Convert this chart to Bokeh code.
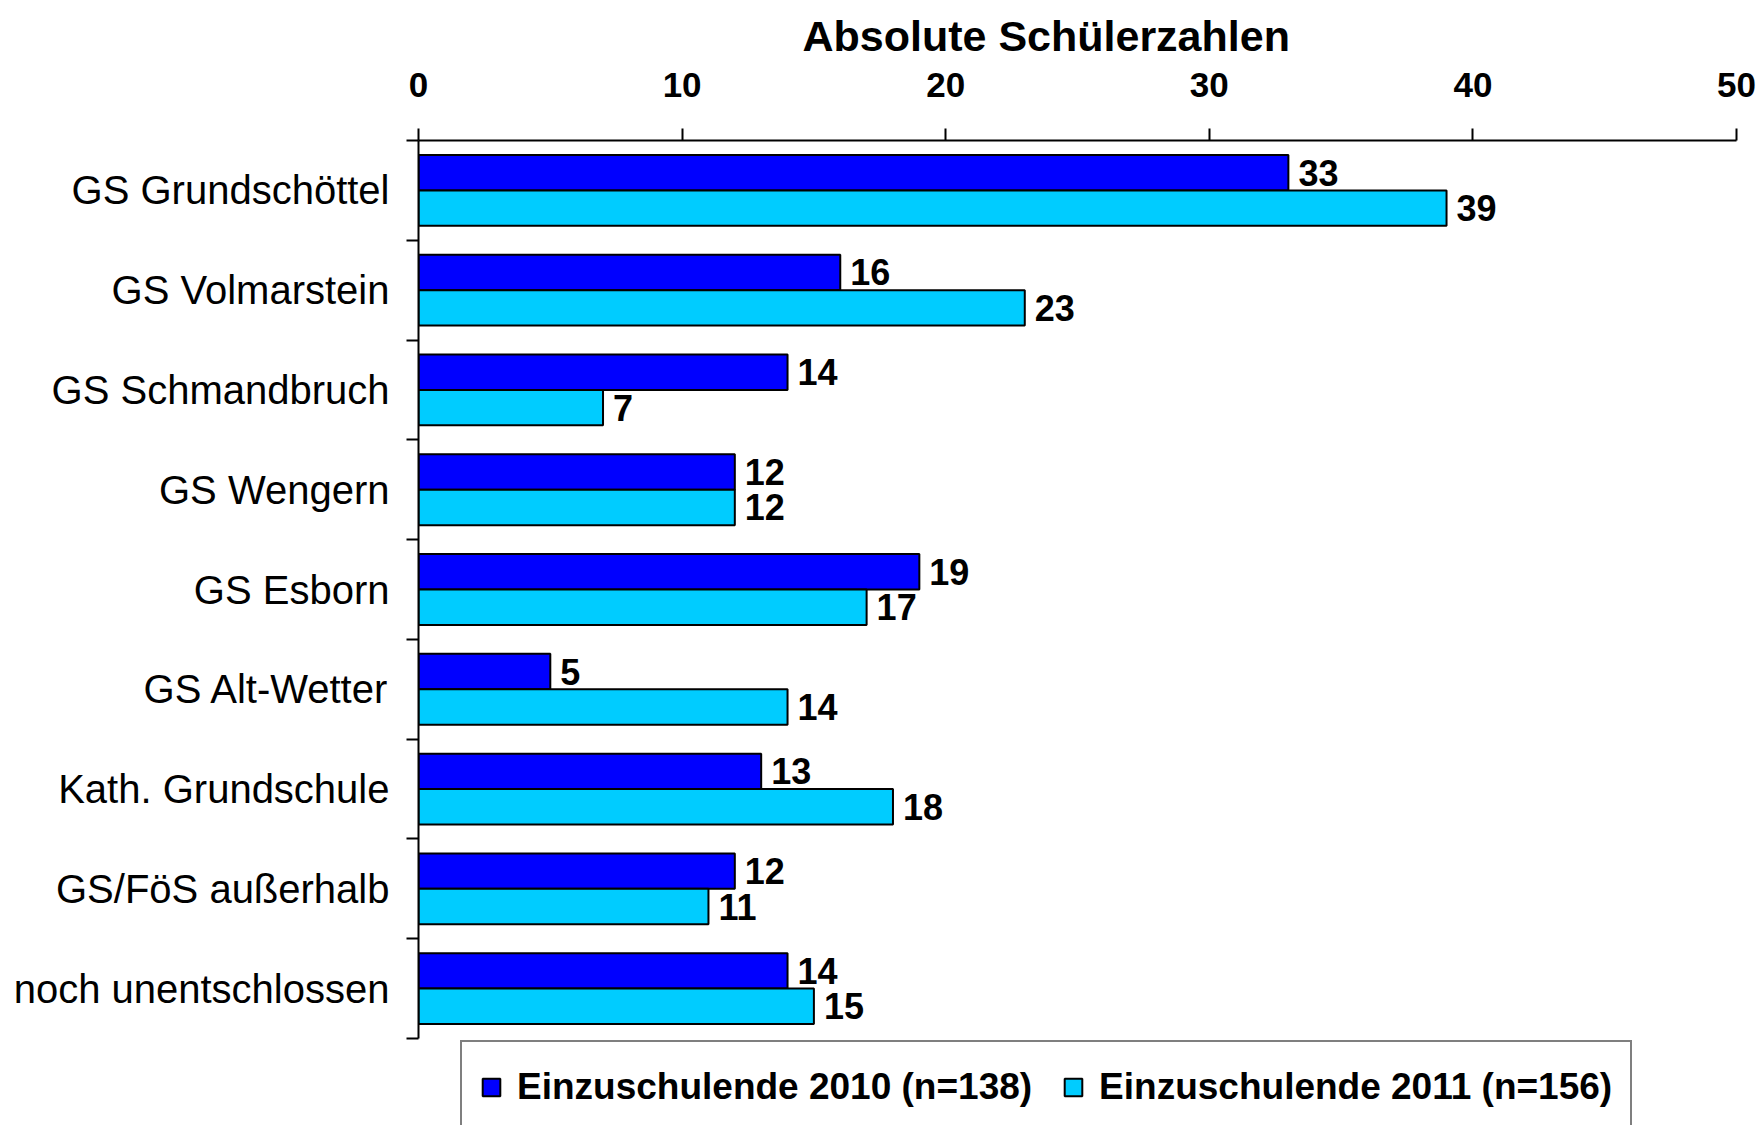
from bokeh.plotting import figure
from bokeh.models import (ColumnDataSource, Range1d, FixedTicker, LabelSet, Legend, LegendItem)
from bokeh.core.properties import value
from bokeh.embed import file_html
from bokeh.resources import INLINE

# ---- data ----
categories = ["GS Grundschöttel", "GS Volmarstein", "GS Schmandbruch", "GS Wengern",
              "GS Esborn", "GS Alt-Wetter", "Kath. Grundschule", "GS/FöS außerhalb",
              "noch unentschlossen"]
values_2010 = [33, 16, 14, 12, 19, 5, 13, 12, 14]
values_2011 = [39, 23, 7, 12, 17, 14, 18, 11, 15]
series_names = ["Einzuschulende 2010 (n=138)", "Einzuschulende 2011 (n=156)"]
x_ticks = [0, 10, 20, 30, 40, 50]
title_text = "Absolute Schülerzahlen"

FONT = "Liberation Sans"
C2010 = "#0000FF"
C2011 = "#00CCFF"
BAR_H = 0.355

# layout (pixels)
CAT_PX = 898       # height of the category area
LEGEND_PX = 87     # room under the category area for the legend
TOP_PX = 140
LEGEND_H = 89

n = len(categories)
# category slots from top to bottom on a numeric axis (first category on top)
centers = [n - i - 0.5 for i in range(n)]
y_extra = LEGEND_PX / (CAT_PX / n)

source = ColumnDataSource(dict(
    cat=categories,
    center=centers,
    y2010=[c + BAR_H / 2 for c in centers],
    y2011=[c - BAR_H / 2 for c in centers],
    v2010=values_2010,
    v2011=values_2011,
    l2010=[str(v) for v in values_2010],
    l2011=[str(v) for v in values_2011],
))

p = figure(
    y_range=Range1d(-y_extra, n),
    x_range=Range1d(x_ticks[0], x_ticks[-1]),
    frame_width=1318, frame_height=CAT_PX + LEGEND_PX,
    min_border_left=418, min_border_right=24, min_border_top=TOP_PX, min_border_bottom=0,
    x_axis_location="above", y_axis_location="left",
    title=title_text, title_location="above",
    output_backend="svg", toolbar_location=None, tools="",
)
p.outline_line_color = None
p.xgrid.visible = False
p.ygrid.visible = False
p.background_fill_color = "white"
p.border_fill_color = "white"

p.title.align = "left"
p.title.offset = 384
p.title.text_font = FONT
p.title.text_font_size = "43px"
p.title.text_font_style = "bold"
p.title.text_color = "black"
p.title.standoff = 19

# top x axis
xa = p.xaxis[0]
xa.ticker = FixedTicker(ticks=x_ticks)
xa.major_tick_out = 12
xa.major_tick_in = 0
xa.minor_tick_line_color = None
xa.axis_line_width = 2
xa.major_tick_line_width = 2
xa.axis_line_color = "black"
xa.major_tick_line_color = "black"
xa.major_label_text_font = FONT
xa.major_label_text_font_size = "35px"
xa.major_label_text_font_style = "bold"
xa.major_label_text_color = "black"
xa.major_label_standoff = 32

# left axis: labels at slot centres, ticks at slot boundaries
ya = p.yaxis[0]
ya.bounds = (0, n)
ya.ticker = FixedTicker(ticks=centers, minor_ticks=list(range(n + 1)))
ya.major_label_overrides = {c: name for c, name in zip(centers, categories)}
ya.major_tick_out = 0
ya.major_tick_in = 0
ya.minor_tick_out = 12
ya.minor_tick_in = 0
ya.minor_tick_line_width = 2
ya.minor_tick_line_color = "black"
ya.axis_line_width = 2
ya.axis_line_color = "black"
ya.major_label_standoff = 17
ya.major_label_text_font = FONT
ya.major_label_text_font_size = "40px"
ya.major_label_text_color = "black"

# bars
r1 = p.hbar(y="y2010", right="v2010", left=0, height=BAR_H,
            source=source, fill_color=C2010, line_color="black", line_width=2)
r2 = p.hbar(y="y2011", right="v2011", left=0, height=BAR_H,
            source=source, fill_color=C2011, line_color="black", line_width=2)

# value labels
for col, ycol, lab in (("v2010", "y2010", "l2010"), ("v2011", "y2011", "l2011")):
    p.add_layout(LabelSet(
        x=col, y=ycol, text=lab, source=source,
        x_offset=10, text_baseline="middle", text_align="left",
        text_font=value(FONT), text_font_size=value("36px"),
        text_font_style=value("bold"), text_color=value("black"),
    ))

legend = Legend(
    items=[LegendItem(label=series_names[0], renderers=[r1]),
           LegendItem(label=series_names[1], renderers=[r2])],
    orientation="horizontal", location=(42, LEGEND_PX - 6 - LEGEND_H),
    label_text_font=FONT, label_text_font_size="37px", label_text_font_style="bold",
    label_text_color="black",
    glyph_width=22, glyph_height=22, label_standoff=15, spacing=30,
    padding=18, margin=0, label_height=LEGEND_H - 36,
    border_line_color="black", border_line_width=2,
    background_fill_color="white", background_fill_alpha=1,
)
p.add_layout(legend)

open("out.html", "w").write(file_html(p, INLINE))
